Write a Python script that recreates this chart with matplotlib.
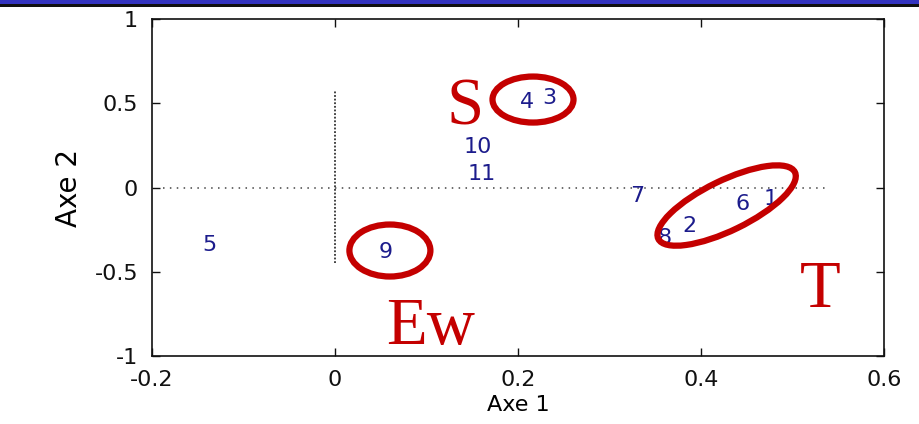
import matplotlib
matplotlib.use("Agg")
import matplotlib.pyplot as plt
from matplotlib.patches import Ellipse, Rectangle
from matplotlib import transforms

# ----------------------------
# Factor map data (axes 1 and 2)
# ----------------------------
point_labels = ["1", "2", "3", "4", "5", "6", "7", "8", "9", "10", "11"]
axe1 = [0.476, 0.387, 0.234, 0.210, -0.137, 0.445, 0.330, 0.360, 0.055, 0.156, 0.160]
axe2 = [-0.07, -0.23, 0.53, 0.51, -0.34, -0.10, -0.05, -0.30, -0.38, 0.24, 0.08]

xticks = [-0.2, 0, 0.2, 0.4, 0.6]
xtick_labels = ["-0.2", "0", "0.2", "0.4", "0.6"]
yticks = [-1, -0.5, 0, 0.5, 1]
ytick_labels = ["-1", "-0.5", "0", "0.5", "1"]

# origin cross (dotted)
hline_x = [-0.188, 0.535]
vline_y = [-0.45, 0.57]

# group annotations
group_names = ["S", "Ew", "T"]
group_x = [0.142, 0.104, 0.530]
group_y = [0.47, -0.83, -0.61]

# circled groups: centre (data), width/height in pixels, angle
ring_x = [0.2164, 0.060, 0.428]
ring_y = [0.522, -0.374, -0.107]
ring_w = [81, 81, 152]
ring_h = [46, 52, 50]
ring_angle = [0, 0, 26]

NAVY = "#1c1c8c"
RED = "#c40000"

fig = plt.figure(figsize=(9.19, 4.24), dpi=100)
ax = fig.add_axes([152 / 919, 68 / 424, 732 / 919, 337 / 424])

# slide header band
fig.patches.append(Rectangle((0, 1 - 4 / 424), 1, 4 / 424, transform=fig.transFigure,
                             facecolor="#3434c0", edgecolor="none", zorder=5))
fig.patches.append(Rectangle((0, 1 - 6.5 / 424), 1, 2.5 / 424, transform=fig.transFigure,
                             facecolor="#111111", edgecolor="none", zorder=5))

ax.plot(hline_x, [0, 0], color="#444444", lw=1.1, linestyle=(0, (1, 3.5)))
ax.plot([0, 0], vline_y, color="#333333", lw=1.3, linestyle=(0, (1, 1)))

for lab, x, y in zip(point_labels, axe1, axe2):
    ax.text(x, y, lab, color=NAVY, fontsize=16, ha="center", va="center",
            family="DejaVu Sans")

px = 1 / fig.dpi
for x, y, w, h, a in zip(ring_x, ring_y, ring_w, ring_h, ring_angle):
    tr = fig.dpi_scale_trans + transforms.ScaledTranslation(x, y, ax.transData)
    ax.add_patch(Ellipse((0, 0), w * px, h * px, angle=a, transform=tr,
                         fill=False, edgecolor=RED, lw=4.5, zorder=4))

for name, x, y in zip(group_names, group_x, group_y):
    ax.text(x, y, name, color=RED, fontsize=48, ha="center", va="center",
            family="Liberation Serif", zorder=6)

ax.set_xlim(-0.2, 0.6)
ax.set_ylim(-1, 1)
ax.set_xticks(xticks)
ax.set_xticklabels(xtick_labels)
ax.set_yticks(yticks)
ax.set_yticklabels(ytick_labels)
ax.tick_params(direction="in", length=6, width=1, top=True, right=True,
               labelsize=16, pad=10, colors="#111111")
for lbl in ax.get_xticklabels() + ax.get_yticklabels():
    lbl.set_family("DejaVu Sans")
for sp in ax.spines.values():
    sp.set_linewidth(1.2)
    sp.set_color("#111111")

ax.set_xlabel("Axe 1", fontsize=16, family="DejaVu Sans", labelpad=4)
ax.set_ylabel("Axe 2", fontsize=20, family="DejaVu Sans", labelpad=8)

fig.savefig("out.png", dpi=100)
